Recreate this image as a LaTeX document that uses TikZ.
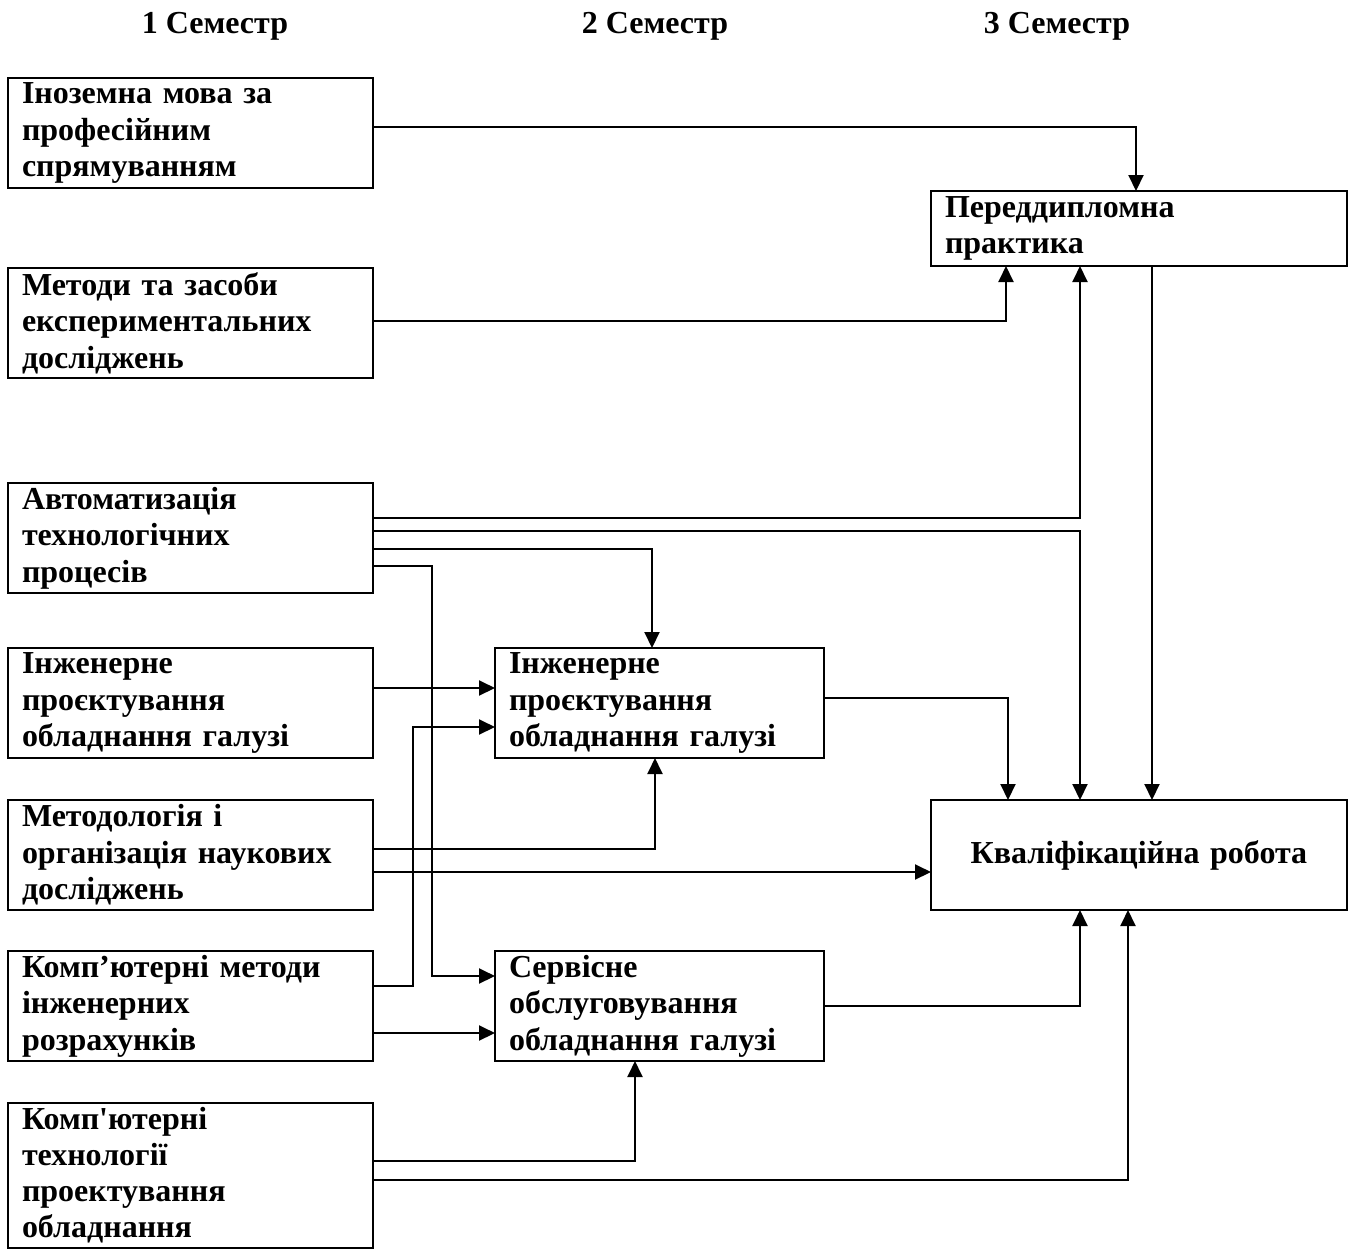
\documentclass[tikz,border=0pt]{standalone}
\usepackage{fontspec}
\setmainfont{Liberation Serif}
\newfontfamily\plainfont{Liberation Serif}
\usetikzlibrary{arrows.meta,positioning,calc}

\begin{document}
\begin{tikzpicture}[x=0.5pt, y=-0.5pt,
    font=\fontsize{16}{18.3}\selectfont\bfseries,
    block/.style={rectangle, draw, line width=1pt, outer sep=0pt, align=left, inner xsep=7pt, inner ysep=0pt, text width=168.5pt, minimum height=55pt},
    midblock/.style={block, text width=150.5pt},
    rightblock/.style={block, text width=194pt},
    arrow/.style={-{Triangle[length=8pt,width=7.5pt]}, line width=1pt},
    head/.style={inner sep=0pt, anchor=base}
]
    \useasboundingbox (0,0) rectangle (1357,1250);

    \node[head] (sem1) at (215,33) {1 Семестр};
    \node[head] (sem2) at (655,33) {2 Семестр};
    \node[head] (sem3) at (1057,33) {3 Семестр};

    % first semester
    \node[block, anchor=north west] (ino) at (8,78) {Іноземна мова за\\професійним\\спрямуванням};
    \node[block, below=40pt of ino] (metz) {Методи та засоби\\експериментальних\\досліджень};
    \node[block, below=52.5pt of metz] (avt) {Автоматизація\\технологічних\\процесів};
    \node[block, below=27.5pt of avt] (ip1) {Інженерне\\проєктування\\обладнання галузі};
    \node[block, below=21pt of ip1] (metod) {Методологія і\\організація наукових\\досліджень};
    \node[block, below=20.5pt of metod] (kmet) {Комп’ютерні методи\\інженерних\\розрахунків};
    \node[block, below=21pt of kmet, minimum height=72.5pt, font=\fontsize{16}{18}\selectfont\bfseries] (kt) {Комп{\plainfont\bfseries'}ютерні\\технології\\проектування\\обладнання};

    % second semester
    \node[midblock, right=61pt of ip1] (ip2) {Інженерне\\проєктування\\обладнання галузі};
    \node[midblock, right=61pt of kmet] (serv) {Сервісне\\обслуговування\\обладнання галузі};

    % third semester
    \node[rightblock, right=279pt of metod, align=center] (kval) {Кваліфікаційна робота};
    \node[rightblock, above=267pt of kval, minimum height=37.5pt] (pdp) {Переддипломна\\практика};

    \draw[arrow] ($(ino.north east)+(0,49)$) -| ($(pdp.north west)+(205,0)$);
    \draw[arrow] ($(metz.north east)+(0,53)$) -| ($(pdp.south west)+(75,0)$);
    \draw[arrow] ($(avt.north east)+(0,35)$) -| ($(pdp.south west)+(149,0)$);
    \draw[arrow] ($(avt.north east)+(0,48)$) -| ($(kval.north west)+(149,0)$);
    \draw[arrow] ($(avt.north east)+(0,66)$) -| ($(ip2.north west)+(157,0)$);
    \draw[arrow] ($(avt.north east)+(0,83)$) -- ++(59,0) |- ($(serv.north west)+(0,25)$);
    \draw[arrow] ($(ip1.north east)+(0,40)$) -- ($(ip2.north west)+(0,40)$);
    \draw[arrow] ($(kmet.north east)+(0,35)$) -- ++(40,0) |- ($(ip2.north west)+(0,79)$);
    \draw[arrow] ($(metod.north east)+(0,49)$) -| ($(ip2.south west)+(160,0)$);
    \draw[arrow] ($(metod.north east)+(0,72)$) -- ($(kval.north west)+(0,72)$);
    \draw[arrow] ($(kmet.north east)+(0,82)$) -- ($(serv.north west)+(0,82)$);
    \draw[arrow] ($(kt.north east)+(0,58)$) -| ($(serv.south west)+(140,0)$);
    \draw[arrow] ($(kt.north east)+(0,77)$) -| ($(kval.south west)+(197,0)$);
    \draw[arrow] ($(ip2.north east)+(0,50)$) -| ($(kval.north west)+(77,0)$);
    \draw[arrow] ($(serv.north east)+(0,55)$) -| ($(kval.south west)+(149,0)$);
    \draw[arrow] ($(pdp.south west)+(221,0)$) -- ($(kval.north west)+(221,0)$);
\end{tikzpicture}
\end{document}
